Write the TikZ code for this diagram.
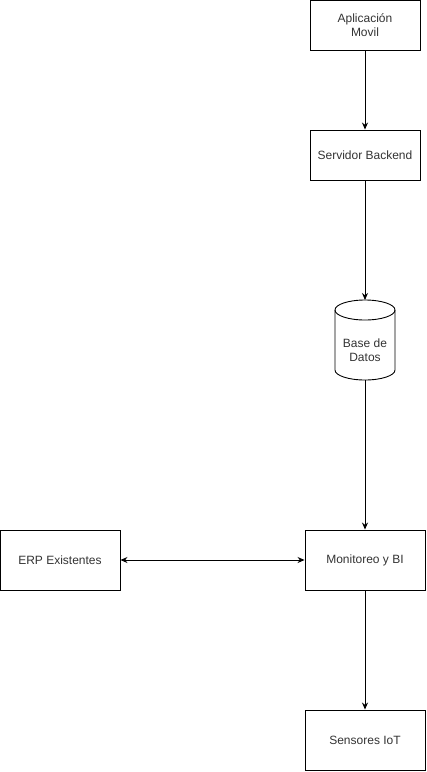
\documentclass[tikz,border=0pt]{standalone}
\usepackage{fontspec}
\setmainfont{Liberation Sans}
\usetikzlibrary{arrows.meta}
\begin{document}
\begin{tikzpicture}[x=1pt,y=-1pt,
  box/.style={draw,line width=0.9pt,minimum width=110pt,minimum height=50pt,inner sep=0pt,align=center,font=\fontsize{12}{14}\selectfont,text=black!80},
  bigbox/.style={box,minimum width=120pt,minimum height=60pt},
  conn/.style={line width=0.9pt,-{Stealth[length=7pt,width=6pt]}}]
\useasboundingbox (0,0) rectangle (427,772);
\node[box] (app) at (365,25) {Aplicación\\Movil};
\node[box] (srv) at (365,155) {Servidor Backend};
% cylinder
\coordinate (dbtop) at (365,300);
\coordinate (dbbot) at (365,380);
\draw[line width=0.9pt] (335,310) arc[start angle=180,end angle=-180,x radius=30,y radius=10];
\draw[line width=0.9pt] (335,310) -- (335,370) arc[start angle=180,end angle=360,x radius=30,y radius=-10] -- (395,310);
\node[align=center,font=\fontsize{12}{14}\selectfont,text=black!80] (db) at (365,350) {Base de\\Datos};
\node[bigbox] (mon) at (365,560) {Monitoreo y BI};
\node[bigbox] (erp) at (60,560) {ERP Existentes};
\node[bigbox] (sen) at (365,740) {Sensores IoT};
\draw[conn] (app) -- (srv);
\draw[conn] (srv) -- (dbtop);
\draw[conn] (dbbot) -- (mon);
\draw[conn] (mon) -- (sen);
\draw[conn,{Stealth[length=7pt,width=6pt]}-{Stealth[length=7pt,width=6pt]}] (erp) -- (mon);
\end{tikzpicture}
\end{document}
